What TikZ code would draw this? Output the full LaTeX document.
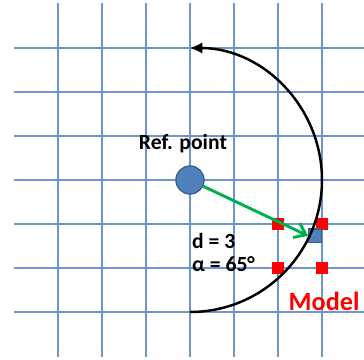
\documentclass[tikz,border=0pt]{standalone}
\usepackage{fontspec}
\setmainfont{Carlito}
\usetikzlibrary{positioning, calc, arrows.meta}
\definecolor{gridblue}{RGB}{110,150,205}
\definecolor{ptblue}{RGB}{79,129,189}
\definecolor{ptedge}{RGB}{56,93,138}
\definecolor{arrgreen}{RGB}{0,176,80}
\begin{document}
\begin{tikzpicture}[
  every node/.append style={inner sep=0pt, outer sep=0pt},
  gline/.style={draw=gridblue, line width=0.8pt},
  refpt/.style={circle, draw=ptedge, line width=0.8pt, fill=ptblue, minimum size=0.64cm},
  mdlpt/.style={rectangle, draw=ptedge, line width=0.8pt, fill=ptblue, minimum size=0.31cm},
  corner/.style={rectangle, fill=red, minimum size=0.27cm},
  lbl/.style={font=\fontsize{14}{16}\selectfont\bfseries},
  arcarr/.style={-{Latex[length=2.8mm, width=2.6mm]}, line width=1.6pt, black},
  garr/.style={-{Straight Barb[length=2.4mm, width=3.6mm]}, line width=1.9pt, arrgreen},
]
\useasboundingbox (-4.318,-4.091) rectangle (3.955,4.091);

%% ─── grid ────────────────────────────────────────────────
\foreach \k in {-3,...,3} {
  \draw[gline] (\k,4.02) -- (\k,-4.02);
  \draw[gline] (-4.0,\k) -- (3.955,\k);
}

%% ─── corner cells and points ────────────────────────────
\node[corner] (c1) at (2,-1) {};
\node[corner] (c2) at (3,-1) {};
\node[corner] (c3) at (2,-2) {};
\node[corner] (c4) at (3,-2) {};
\node[mdlpt]  (mdl) at (2.84,-1.27) {};
\node[refpt]  (ref) at (0,0) {};

%% ─── arc and arrow ──────────────────────────────────────
\coordinate (abot) at (0,-3);
\draw[arcarr] (abot) arc[start angle=-90, end angle=90, radius=3];
\draw[garr] (ref) -- (mdl.west);

%% ─── labels ─────────────────────────────────────────────
\node[lbl] (reflbl) at (-0.16,0.82) {Ref. point};
\node[lbl, anchor=west, align=left] (dlbl) at (0.05,-1.65) {d = 3\\[-1pt]α = 65°};
\node[font=\fontsize{17}{19}\selectfont\bfseries, text=red] (mlbl) at (3.05,-2.75) {Model};
\end{tikzpicture}
\end{document}
